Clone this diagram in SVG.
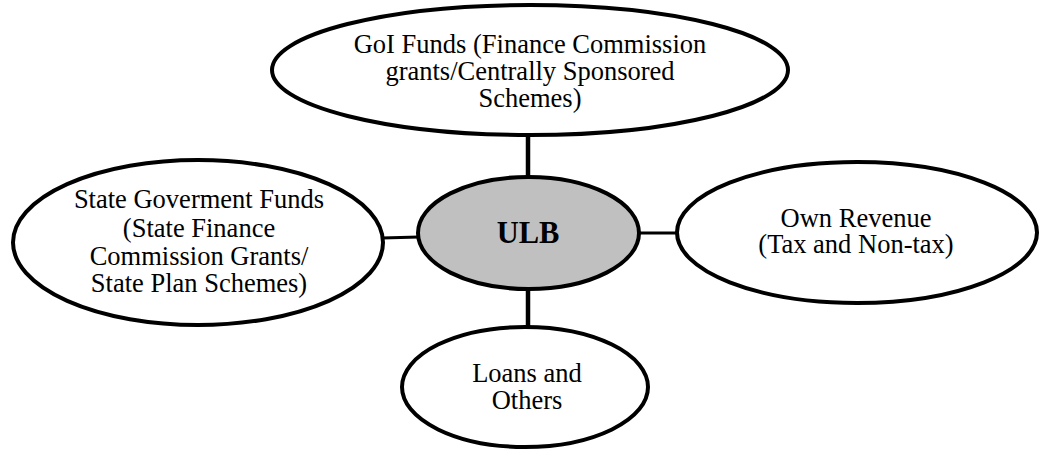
<svg xmlns="http://www.w3.org/2000/svg" width="1042" height="450" viewBox="0 0 1042 450">
  <style>
    .node { fill: #ffffff; stroke: #000000; stroke-width: 4; }
    .hub { fill: #c0c0c0; stroke: #000000; stroke-width: 4; }
    .label { font-family: "Liberation Serif", "Times New Roman", serif; font-size: 26.5px; fill: #000000; text-anchor: middle; }
    .hub-label { font-family: "Liberation Serif", "Times New Roman", serif; font-size: 30.5px; font-weight: bold; fill: #000000; text-anchor: middle; }
    .link { stroke: #000000; fill: none; }
  </style>
  <rect width="1042" height="450" fill="#ffffff"/>

  <!-- connectors from the central ULB to each funding source -->
  <g id="connectors">
    <line class="link" x1="528" y1="136" x2="528" y2="178" stroke-width="4.5"/>
    <line class="link" x1="528" y1="288" x2="528" y2="328" stroke-width="4.5"/>
    <line class="link" x1="382" y1="238" x2="419" y2="237" stroke-width="3.2"/>
    <line class="link" x1="638" y1="233" x2="678" y2="233" stroke-width="3.2"/>
  </g>

  <g id="goi-funds">
    <ellipse class="node" cx="530" cy="70" rx="258" ry="65"/>
    <text class="label" x="530" y="53">GoI Funds (Finance Commission</text>
    <text class="label" x="530" y="80">grants/Centrally Sponsored</text>
    <text class="label" x="530" y="107">Schemes)</text>
  </g>

  <g id="state-funds">
    <ellipse class="node" cx="198" cy="242.5" rx="185" ry="82.5"/>
    <text class="label" x="199" y="208">State Goverment Funds</text>
    <text class="label" x="199" y="237">(State Finance</text>
    <text class="label" x="199" y="265">Commission Grants/</text>
    <text class="label" x="199" y="292">State Plan Schemes)</text>
  </g>

  <g id="ulb">
    <ellipse class="hub" cx="528.5" cy="233" rx="110.5" ry="56"/>
    <text class="hub-label" x="528" y="243">ULB</text>
  </g>

  <g id="own-revenue">
    <ellipse class="node" cx="857" cy="232.5" rx="180" ry="70.5"/>
    <text class="label" x="856" y="227">Own Revenue</text>
    <text class="label" x="856" y="253">(Tax and Non-tax)</text>
  </g>

  <g id="loans">
    <ellipse class="node" cx="525" cy="387" rx="123" ry="60"/>
    <text class="label" x="527" y="382">Loans and</text>
    <text class="label" x="527" y="409">Others</text>
  </g>
</svg>
